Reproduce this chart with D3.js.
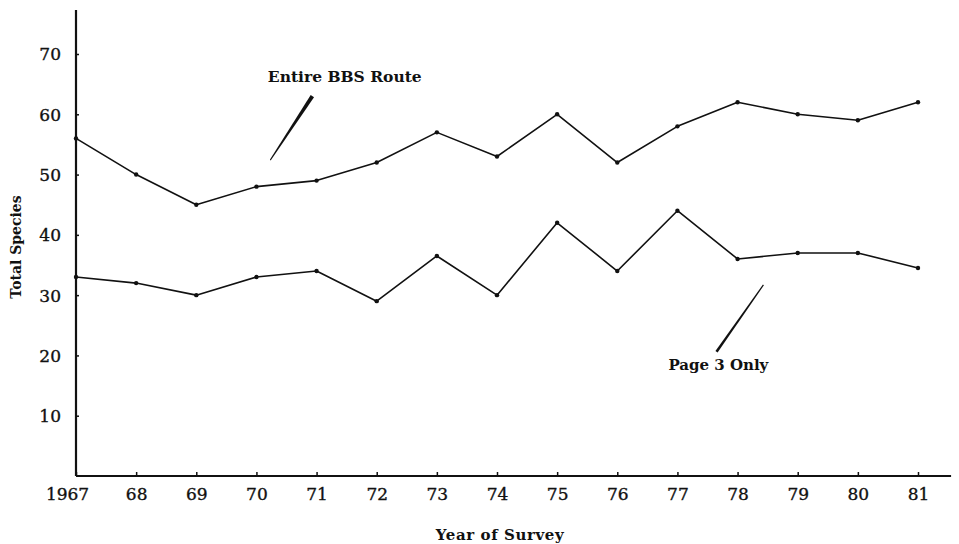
<!DOCTYPE html>
<html><head><meta charset="utf-8">
<script src="https://cdn.jsdelivr.net/npm/d3@7"></script>
<style>
html,body{margin:0;padding:0;background:#fff;}
text{font-family:"DejaVu Serif","Liberation Serif",serif;fill:#111;}
</style></head>
<body>
<svg id="chart" width="959" height="544"></svg>
<script>
const years = [1967,1968,1969,1970,1971,1972,1973,1974,1975,1976,1977,1978,1979,1980,1981];
const yearLabels = ["1967","68","69","70","71","72","73","74","75","76","77","78","79","80","81"];
const entireRoute = [56,50,45,48,49,52,57,53,60,52,58,62,60,59,62];
const page3Only = [33,32,30,33,34,29,36.5,30,42,34,44,36,37,37,34.5];
const yTicks = [10,20,30,40,50,60,70];
const seriesNames = ["Entire BBS Route","Page 3 Only"];

const svg = d3.select("#chart");
const x = d3.scaleLinear().domain([1967,1981]).range([76,918]);
const y = d3.scaleLinear().domain([0,70]).range([476,54]);
const ink = "#111";

// axes lines
svg.append("line").attr("x1",x(1967)).attr("x2",x(1967)).attr("y1",y(0)).attr("y2",y(77.3))
  .attr("stroke",ink).attr("stroke-width",2.2);
svg.append("line").attr("x1",x(1967)).attr("x2",x(1981.55)).attr("y1",y(0)).attr("y2",y(0))
  .attr("stroke",ink).attr("stroke-width",2.2);

// y axis
const yAxis = d3.axisRight(y).tickValues(yTicks).tickSize(3).tickFormat(d3.format("d"));
const gy = svg.append("g").attr("transform",`translate(${x(1967)},0)`).call(yAxis);
gy.select(".domain").remove();
gy.selectAll(".tick line").attr("stroke",ink).attr("stroke-width",1.5);
gy.selectAll(".tick text").attr("x",-15).attr("text-anchor","end").attr("font-size",17)
  .attr("font-family","DejaVu Serif").attr("fill",ink).attr("stroke",ink).attr("stroke-width",0.35)
  .attr("dy","0.35em");

// x axis
const xAxis = d3.axisTop(x).tickValues(years).tickSize(4).tickFormat((d,i)=>yearLabels[i]);
const gx = svg.append("g").attr("transform",`translate(0,${y(0)})`).call(xAxis);
gx.select(".domain").remove();
gx.selectAll(".tick line").attr("stroke",ink).attr("stroke-width",1.5);
gx.selectAll(".tick text").attr("y",24).attr("dy","0").attr("font-size",17)
  .attr("font-family","DejaVu Serif").attr("fill",ink).attr("stroke",ink).attr("stroke-width",0.35)
  .attr("dx",(d,i)=> i===0 ? -9 : 0);

// series
const line = d3.line().x((d,i)=>x(years[i])).y(d=>y(d));
[entireRoute,page3Only].forEach(s=>{
  svg.append("path").datum(s).attr("d",line).attr("fill","none")
    .attr("stroke",ink).attr("stroke-width",1.6).attr("stroke-linejoin","round");
  svg.selectAll(null).data(s).enter().append("circle")
    .attr("cx",(d,i)=>x(years[i])).attr("cy",d=>y(d)).attr("r",2.2).attr("fill",ink);
});

// annotation pointers (tapered strokes), anchored in data units
function pointer(x0,v0,x1,v1,w0,w1){
  const ax=x(x0), ay=y(v0), bx=x(x1), by=y(v1);
  const dx=bx-ax, dy=by-ay, L=Math.hypot(dx,dy), nx=-dy/L, ny=dx/L;
  const pts=[[ax+nx*w0/2,ay+ny*w0/2],[bx+nx*w1/2,by+ny*w1/2],[bx-nx*w1/2,by-ny*w1/2],[ax-nx*w0/2,ay-ny*w0/2]];
  svg.append("path").attr("d",d3.line()(pts)+"Z").attr("fill",ink);
}
pointer(1970.23,52.4,1970.93,63.0,1.0,4.0);
pointer(1978.43,31.7,1977.65,20.6,1.2,2.6);

// labels
svg.append("text").attr("x",x(1970.19)).attr("y",y(65.3)).attr("font-size",15.5)
  .attr("font-weight","bold").text(seriesNames[0]);
svg.append("text").attr("x",x(1976.85)).attr("y",y(17.6)).attr("font-size",15)
  .attr("font-weight","bold").text(seriesNames[1]);

svg.append("text").attr("transform",`translate(21,247) rotate(-90)`).attr("text-anchor","middle")
  .attr("font-size",14).attr("font-weight","bold").text("Total Species");
svg.append("text").attr("x",500).attr("y",540).attr("text-anchor","middle")
  .attr("font-size",15).attr("letter-spacing","0.6px").attr("font-weight","bold").text("Year of Survey");
</script>
</body></html>
